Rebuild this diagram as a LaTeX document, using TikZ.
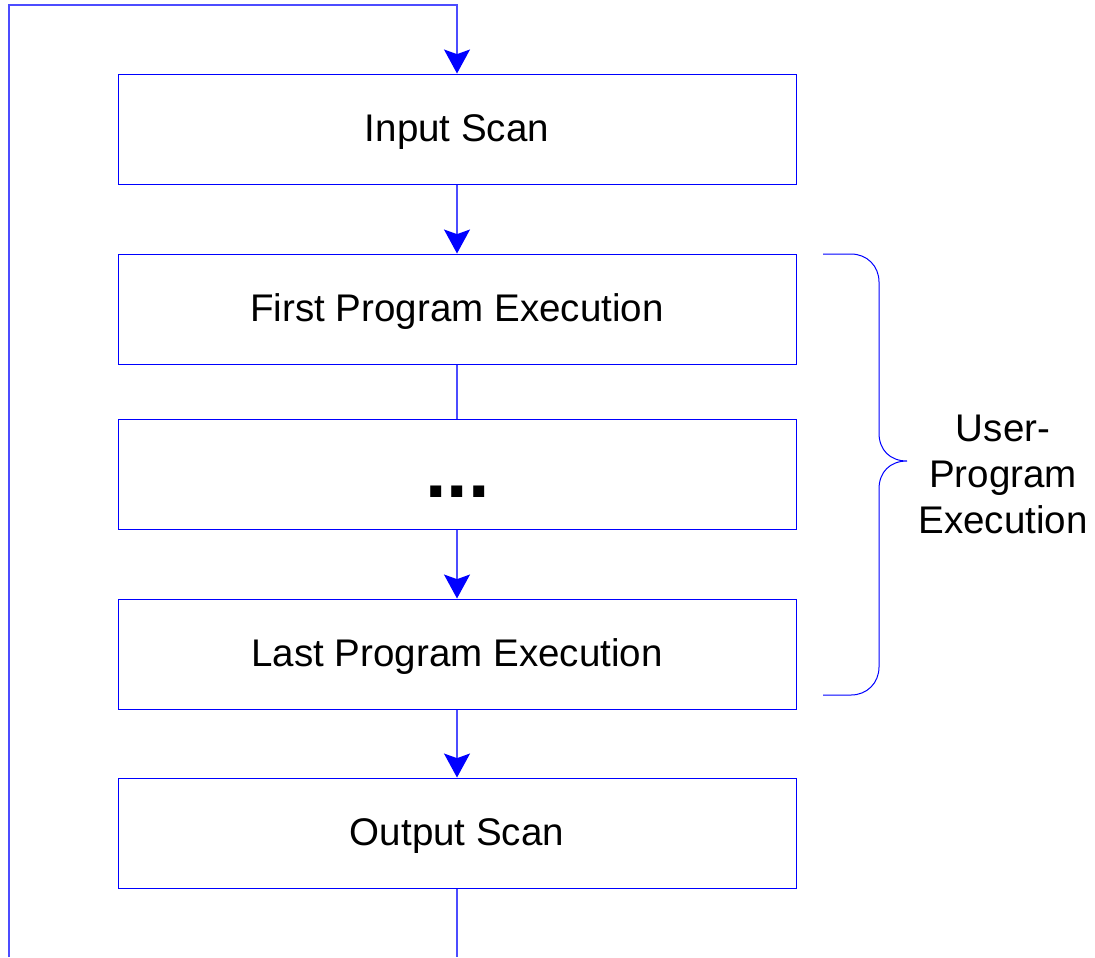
\documentclass[tikz,border=0pt]{standalone}
\usepackage{fontspec}
\setmainfont{Liberation Sans}
\usetikzlibrary{arrows.meta}
\begin{document}
\begin{tikzpicture}[x=0.75pt,y=-0.75pt,
  stage/.style={draw=blue, line width=0.75pt, inner sep=0pt,
    minimum width=508.5pt, minimum height=82.5pt,
    text height=20.7pt, text depth=1.7pt,
    font=\fontsize{28.9}{34.5}\selectfont},
  wire/.style={draw=blue!70, line width=0.9pt},
  flow/.style={wire, -{Stealth[length=18pt,width=19.5pt,inset=3.5pt,color=blue]}},
  brace/.style={draw=blue, line width=0.75pt},
  label/.style={font=\fontsize{28.9}{34.5}\selectfont, align=center}]
  \useasboundingbox (0,0) rectangle (1095,957);

  % scan cycle stages
  \node[stage] (in)    at (457,129) {Input Scan};
  \node[stage] (first) at (457,309) {First Program Execution};
  \node[stage] (mid)   at (457,474) {};
  \node[stage] (last)  at (457,654) {Last Program Execution};
  \node[stage] (out)   at (457,833) {Output Scan};
  \node[font=\bfseries\fontsize{58}{58}\selectfont, anchor=base] (dots) at (457.5,497) {...};

  % connectors between stages
  \draw[flow] (in) -- (first);
  \draw[wire] (first) -- (mid);
  \draw[flow] (mid) -- (last);
  \draw[flow] (last) -- (out);

  % loop back from the bottom to the input scan
  \coordinate (exit)  at (457,957);
  \coordinate (loopB) at (9,957);
  \coordinate (loopT) at (9,5);
  \coordinate (loopR) at (457,5);
  \draw[wire] (out) -- (exit);
  \draw[flow] (loopB) -- (loopT) -- (loopR) -- (in);

  % brace grouping the user program
  \draw[brace] (823,254) -- (851,254)
    .. controls (867,254) and (879,266) .. (879,282) -- (879,433)
    .. controls (879,450) and (890,461) .. (907,461)
    .. controls (890,461) and (879,472) .. (879,489) -- (879,667)
    .. controls (879,683) and (867,695) .. (851,695) -- (823,695);
  \node[label] (grp) at (1003,474) {User-\\Program\\Execution};
\end{tikzpicture}
\end{document}
